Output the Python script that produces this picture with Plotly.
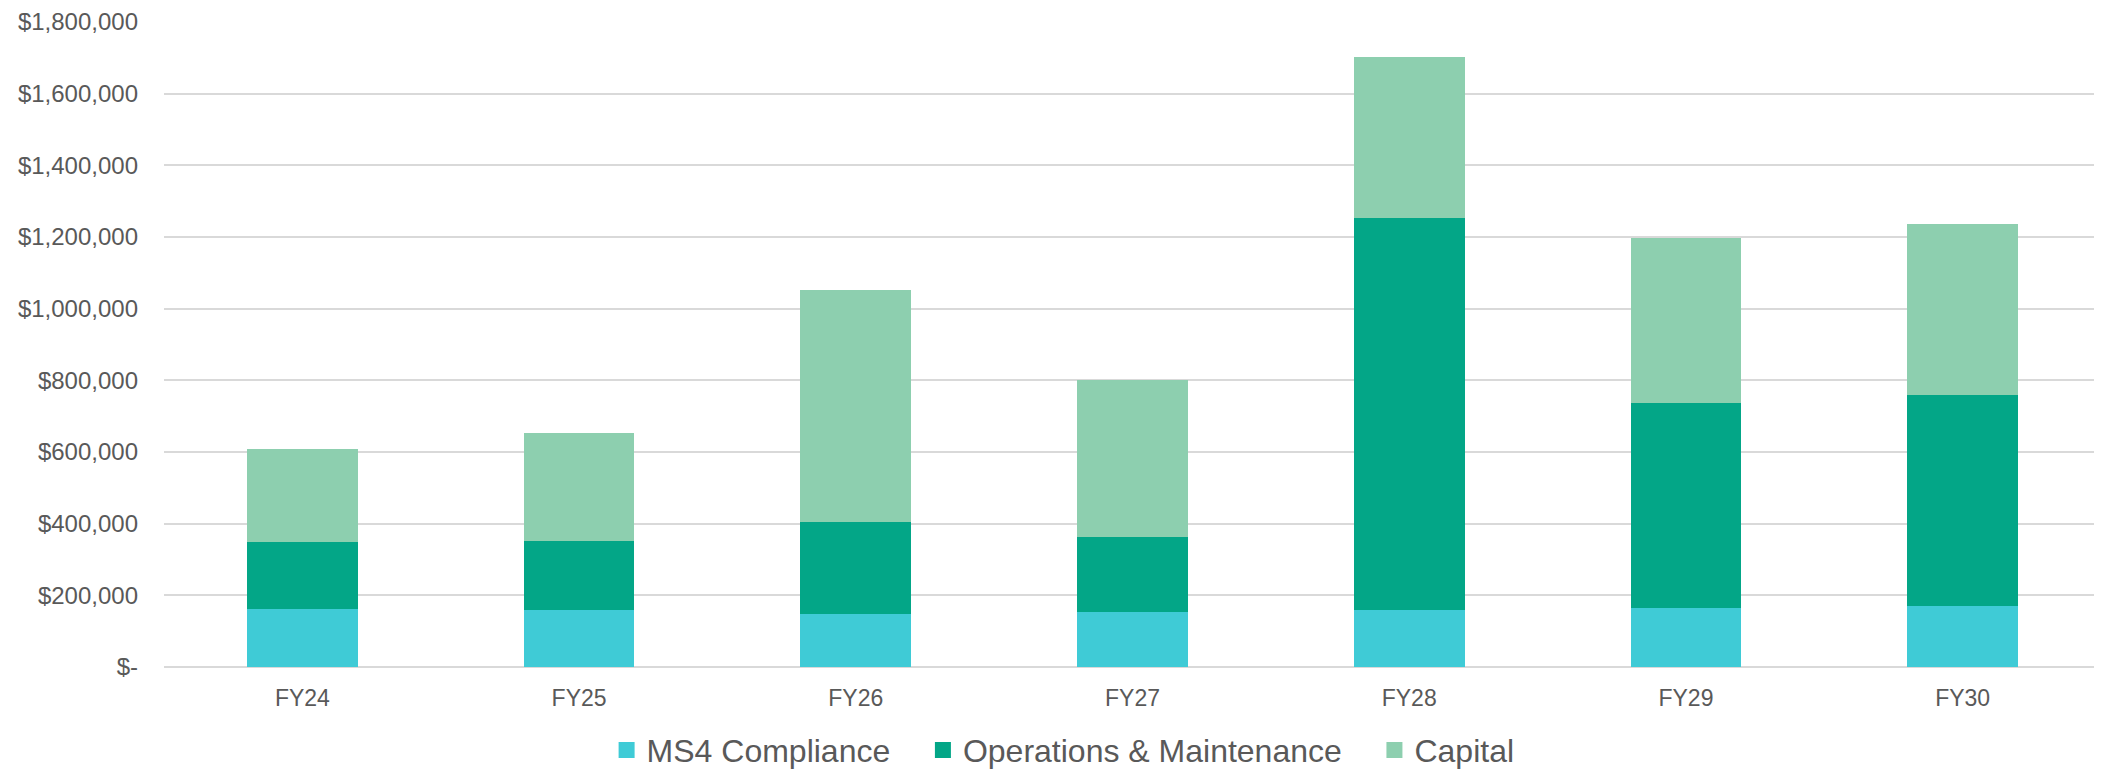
import plotly.graph_objects as go

categories = ["FY24", "FY25", "FY26", "FY27", "FY28", "FY29", "FY30"]
ms4_compliance = [161000, 160000, 147000, 153000, 158000, 164000, 169000]
operations_maintenance = [187000, 193000, 258000, 211000, 1095000, 573000, 591000]
capital = [259000, 300000, 648000, 436000, 449000, 461000, 475000]

y_tickvals = [0, 200000, 400000, 600000, 800000, 1000000, 1200000, 1400000, 1600000, 1800000]
y_ticktext = ["$-", "$200,000", "$400,000", "$600,000", "$800,000", "$1,000,000",
              "$1,200,000", "$1,400,000", "$1,600,000", "$1,800,000"]

series = [
    ("MS4 Compliance", ms4_compliance, "#3fcbd6"),
    ("Operations & Maintenance", operations_maintenance, "#03a687"),
    ("Capital", capital, "#8dcfaf"),
]

legend_ids = ["legend", "legend2", "legend3"]
legend_x = [0.2285, 0.3918, 0.6249]

fig = go.Figure()
for name, vals, color in series:
    fig.add_trace(go.Bar(x=categories, y=vals, name=name, marker_color=color,
                         marker_line_width=0, showlegend=False))
for (name, vals, color), lid in zip(series, legend_ids):
    fig.add_trace(go.Scatter(x=[None], y=[None], mode="markers", name=name, legend=lid,
                             marker=dict(symbol="square", size=16, color=color)))

font_family = "Liberation Sans, Arial, sans-serif"
legend_common = dict(orientation="h", xanchor="left", y=-0.129, yanchor="middle",
                     font=dict(size=32, color="#595959"), itemsizing="trace",
                     bgcolor="rgba(0,0,0,0)")
fig.update_layout(
    barmode="stack",
    bargap=0.6,
    width=2102, height=771,
    margin=dict(l=156, r=9, t=14, b=112, autoexpand=False),
    plot_bgcolor="white", paper_bgcolor="white",
    font=dict(family=font_family, color="#595959", size=22),
    showlegend=True,
    legend=dict(x=legend_x[0], **legend_common),
    legend2=dict(x=legend_x[1], **legend_common),
    legend3=dict(x=legend_x[2], **legend_common),
    xaxis=dict(showgrid=False, showline=False, ticks="", tickfont=dict(size=23),
               ticklabelstandoff=15, automargin=False),
    yaxis=dict(range=[0, 1800000], tickvals=y_tickvals, ticktext=y_ticktext,
               showgrid=True, gridcolor="#d9d9d9", gridwidth=2,
               zeroline=True, zerolinecolor="#d9d9d9", zerolinewidth=2,
               showline=False, ticks="", ticklabelstandoff=25, tickfont=dict(size=24),
               automargin=False),
)

fig.write_html("out.html")
